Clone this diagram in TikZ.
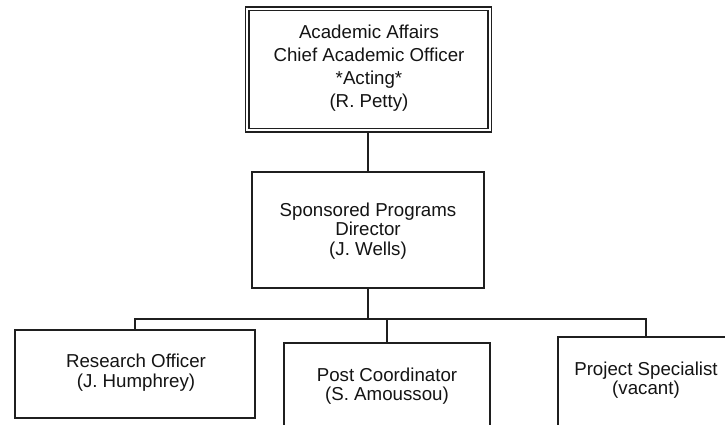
\documentclass[tikz,border=0pt]{standalone}
\usepackage{fontspec}
\setmainfont{Liberation Sans}
\begin{document}
\begin{tikzpicture}[x=1pt,y=-1pt,
  box/.style={draw=black!88, line width=1.9pt, rectangle, inner sep=0pt, fill=white},
  lbl/.style={text=black!92, align=center, font=\fontsize{18.7}{19.5}\selectfont, inner sep=0pt},
  conn/.style={draw=black!88, line width=1.9pt}]
\useasboundingbox (0,0) rectangle (725,425);
\clip (0,0) rectangle (725,425);
\fill[white] (0,0) rectangle (725,425);
% boxes
\node[box, minimum width=246pt, minimum height=125pt] (aa) at (368.5,69.5) {};
\draw[black!88, line width=1.3pt] ([shift={(4.5,4.5)}]aa.north west) rectangle ([shift={(-4.5,-4.5)}]aa.south east);
\node[box, minimum width=232pt, minimum height=116pt] (dir) at (368,230) {};
\node[box, minimum width=240pt, minimum height=88pt] (ro) at (135,374) {};
\node[box, minimum width=206pt, minimum height=90pt] (pc) at (387,388) {};
\node[box, minimum width=176pt, minimum height=94pt] (ps) at (646,384) {};
% texts
\node[lbl, font=\fontsize{18.7}{23}\selectfont] (aat) at (369,68) {Academic Affairs\\Chief Academic Officer\\*Acting*\\(R. Petty)};
\node[lbl] (dirt) at (368,231) {Sponsored Programs\\Director\\(J. Wells)};
\node[lbl] (rot) at (136,372.5) {Research Officer\\(J. Humphrey)};
\node[lbl] (pct) at (387,386) {Post Coordinator\\(S. Amoussou)};
\node[lbl] (pst) at (646,380) {Project Specialist\\(vacant)};
% connectors
\coordinate (bus) at (368,320);
\draw[conn] (dir.north) -- (dir.north |- aa.south);
\draw[conn] (dir.south) -- (bus);
\draw[conn] (ro.north) -- ++(0,-10) -| (ps.north);
\draw[conn] (pc.north) -- (pc.north |- bus);
\end{tikzpicture}
\end{document}
